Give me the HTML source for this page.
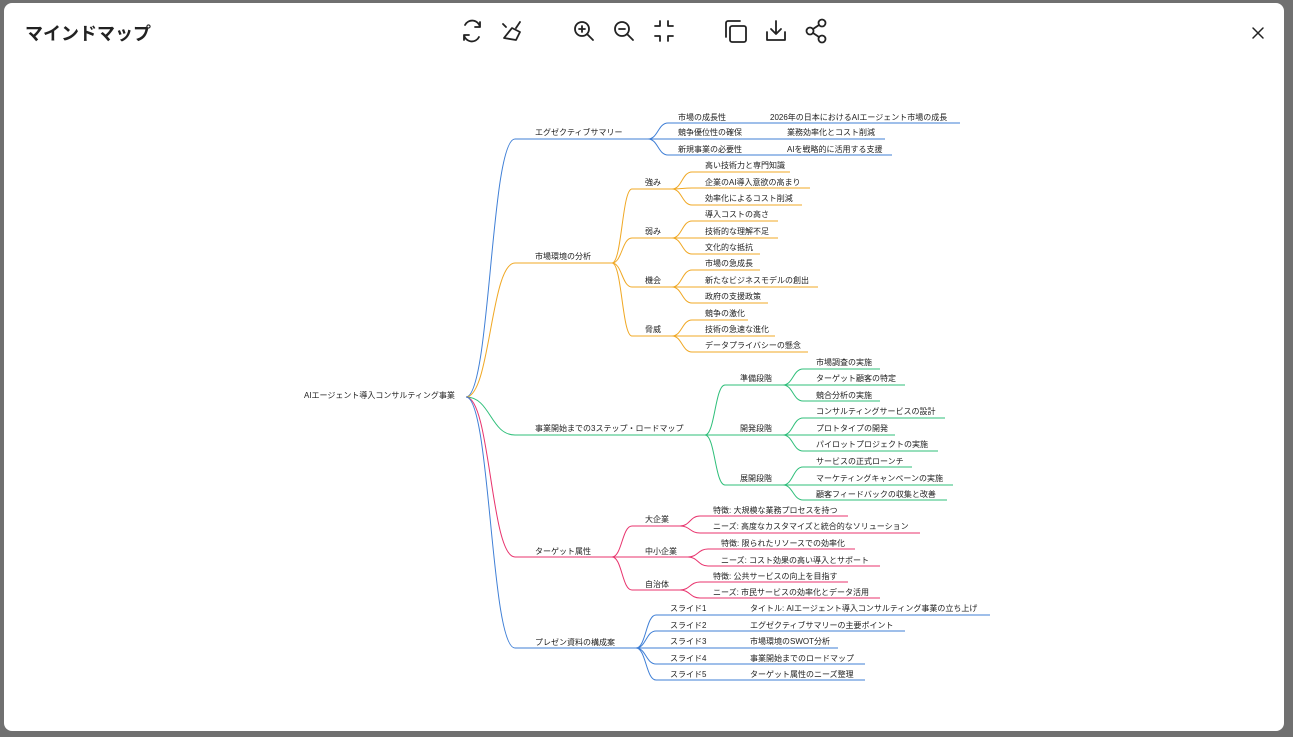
<!DOCTYPE html>
<html><head><meta charset="utf-8">
<style>
html,body{margin:0;padding:0;width:1293px;height:737px;overflow:hidden;background:#707070;}
.modal{position:absolute;left:4px;top:3px;width:1280px;height:728px;background:#fff;border-radius:8px;}
.title{position:absolute;left:25px;top:20px;font:bold 18px "Liberation Sans","Noto Sans CJK JP",sans-serif;color:#222;}
svg{position:absolute;left:0;top:0;}
text{font-family:"Liberation Sans","Noto Sans CJK JP",sans-serif;font-size:8px;fill:#222;}
</style></head><body>
<div class="modal"></div>
<div class="title">マインドマップ</div>
<svg width="1293" height="737" id="s">
<g fill="none" stroke="#222" stroke-width="1.8" stroke-linecap="round" stroke-linejoin="round">
 <path d="M480 27 a8 8 0 0 0 -15 -2 M464 35 a8 8 0 0 0 15 2 M480 22 v5 h-5 M464 40 v-5 h5"/>
 <path d="M504 38 l8 -10 l8 4 l-4 8 z M516 28 l4 -6 M503 24 l3 3"/>
 <circle cx="582" cy="29" r="7"/><path d="M587 34 l6 6 M579 29 h6 M582 26 v6"/>
 <circle cx="622" cy="29" r="7"/><path d="M627 34 l6 6 M619 29 h6"/>
 <path d="M655 26 h5 v-5 M673 26 h-5 v-5 M655 36 h5 v5 M673 36 h-5 v5"/>
 <rect x="730" y="26" width="16" height="16" rx="2"/><path d="M726 37 v-14 a2 2 0 0 1 2 -2 h12"/>
 <path d="M767 32 v8 h18 v-8 M776 21 v13 M771 29 l5 5 l5 -5"/>
 <circle cx="822" cy="23" r="3.5"/><circle cx="810" cy="31" r="3.5"/><circle cx="822" cy="39" r="3.5"/><path d="M813 29 l6 -4 M813 33 l6 4"/>
 <path d="M1253 28 l10 10 M1263 28 l-10 10" stroke-width="1.5"/>
</g>
<g id="m"></g>
</svg>
<script>
var g=document.getElementById('m'),NS='http://www.w3.org/2000/svg';
function el(t,a,txt){var e=document.createElementNS(NS,t);for(var k in a)e.setAttribute(k,a[k]);if(txt)e.textContent=txt;g.appendChild(e);}
function curve(x1,y1,x2,y2,c){var m=(x1+x2)/2;el('path',{d:'M'+x1+' '+y1+' C'+m+' '+y1+' '+m+' '+y2+' '+x2+' '+y2,fill:'none',stroke:c,'stroke-width':1});}
function line(x1,x2,y,c){el('path',{d:'M'+x1+' '+y+' H'+x2,fill:'none',stroke:c,'stroke-width':1});}
function tx(x,y,s){el('text',{x:x,y:y+3},s);}
var B='#3f7fd6',O='#f0a824',G='#2fbf7a',R='#e8336d';
tx(304,395,'AIエージェント導入コンサルティング事業');
var rx=466,ry=397;
// level1
var L1=[[132,139,648,'エグゼクティブサマリー',B],[256,263,612,'市場環境の分析',O],[428,435,705,'事業開始までの3ステップ・ロードマップ',G],[551,557,612,'ターゲット属性',R],[642,648,636,'プレゼン資料の構成案',B]];
L1.forEach(function(a){curve(rx,ry,515,a[1],a[4]);line(515,a[2],a[1],a[4]);tx(535,a[0],a[3]);});
// exec
[[117,123,960,'市場の成長性','2026年の日本におけるAIエージェント市場の成長',770],[132,139,885,'競争優位性の確保','業務効率化とコスト削減',787],[149,155,892,'新規事業の必要性','AIを戦略的に活用する支援',787]].forEach(function(a){curve(648,139,668,a[1],B);line(668,a[2],a[1],B);tx(678,a[0],a[3]);tx(a[5],a[0],a[4]);});
function group(px,py,c,sx,tx1,bx,ly,items){}
// market
var M=[[182,189,'強み',[[165,172,790,'高い技術力と専門知識'],[182,188,810,'企業のAI導入意欲の高まり'],[198,205,802,'効率化によるコスト削減']]],
[231,238,'弱み',[[214,221,778,'導入コストの高さ'],[231,238,778,'技術的な理解不足'],[247,254,760,'文化的な抵抗']]],
[280,287,'機会',[[263,270,760,'市場の急成長'],[280,287,818,'新たなビジネスモデルの創出'],[296,303,768,'政府の支援政策']]],
[329,336,'脅威',[[313,320,748,'競争の激化'],[329,336,775,'技術の急速な進化'],[345,352,808,'データプライバシーの懸念']]]];
M.forEach(function(a){curve(612,263,632,a[1],O);line(632,672,a[1],O);tx(645,a[0],a[2]);a[3].forEach(function(b){curve(672,a[1],692,b[1],O);line(692,b[2],b[1],O);tx(705,b[0],b[3]);});});
var RM=[[378,385,'準備段階',[[362,369,880,'市場調査の実施'],[378,385,905,'ターゲット顧客の特定'],[395,401,880,'競合分析の実施']]],
[428,435,'開発段階',[[411,418,945,'コンサルティングサービスの設計'],[428,435,895,'プロトタイプの開発'],[444,451,938,'パイロットプロジェクトの実施']]],
[478,485,'展開段階',[[461,467,912,'サービスの正式ローンチ'],[478,485,953,'マーケティングキャンペーンの実施'],[494,500,947,'顧客フィードバックの収集と改善']]]];
RM.forEach(function(a){curve(705,435,725,a[1],G);line(725,783,a[1],G);tx(740,a[0],a[2]);a[3].forEach(function(b){curve(783,a[1],803,b[1],G);line(803,b[2],b[1],G);tx(816,b[0],b[3]);});});
var T=[[519,526,'大企業',680,713,[[510,516,848,'特徴: 大規模な業務プロセスを持つ'],[526,533,920,'ニーズ: 高度なカスタマイズと統合的なソリューション']]],
[551,557,'中小企業',688,721,[[543,549,855,'特徴: 限られたリソースでの効率化'],[560,566,880,'ニーズ: コスト効果の高い導入とサポート']]],
[584,590,'自治体',680,713,[[576,582,848,'特徴: 公共サービスの向上を目指す'],[592,598,880,'ニーズ: 市民サービスの効率化とデータ活用']]]];
T.forEach(function(a){curve(612,557,632,a[1],R);line(632,a[3],a[1],R);tx(645,a[0],a[2]);a[5].forEach(function(b){curve(a[3],a[1],a[3]+20,b[1],R);line(a[3]+20,b[2],b[1],R);tx(a[4],b[0],b[3]);});});
[[608,615,990,'スライド1','タイトル: AIエージェント導入コンサルティング事業の立ち上げ'],[625,631,905,'スライド2','エグゼクティブサマリーの主要ポイント'],[641,648,838,'スライド3','市場環境のSWOT分析'],[658,664,865,'スライド4','事業開始までのロードマップ'],[674,680,865,'スライド5','ターゲット属性のニーズ整理']].forEach(function(a){curve(636,648,656,a[1],B);line(656,a[2],a[1],B);tx(670,a[0],a[3]);tx(750,a[0],a[4]);});
</script>
</body></html>
